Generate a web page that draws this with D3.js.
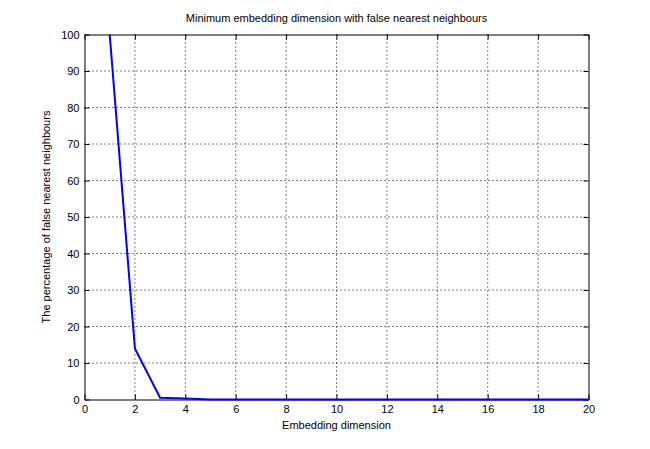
<!DOCTYPE html>
<html><head><meta charset="utf-8">
<script src="https://cdn.jsdelivr.net/npm/d3@7"></script>
<style>body{margin:0;background:#fff}text{font-family:Arial,"Liberation Sans",sans-serif}</style>
</head><body><svg id="c" width="650" height="449"></svg>
<script>
const dims = [1,2,3,4,5,6,7,8,9,10,11,12,13,14,15,16,17,18,19,20];
const falsePct = [100,14,0.5,0.3,0,0,0,0,0,0,0,0,0,0,0,0,0,0,0,0];
const xTicks = [0,2,4,6,8,10,12,14,16,18,20];
const yTicks = [0,10,20,30,40,50,60,70,80,90,100];
const title = "Minimum embedding dimension with false nearest neighbours";
const xLabel = "Embedding dimension";
const yLabel = "The percentage of false nearest neighbours";

const svg = d3.select("#c");
const L=84.5,R=588.5,T=34.5,B=399.5;
const x = d3.scaleLinear().domain([0,20]).range([L,R]);
const y = d3.scaleLinear().domain([0,100]).range([B,T]);
const g = svg.append("g");
g.selectAll(".gx").data(xTicks.slice(1,-1)).join("line").attr("x1",d=>x(d)).attr("x2",d=>x(d)).attr("y1",T).attr("y2",B).attr("stroke","#000").attr("stroke-width",1).attr("stroke-dasharray","1,3");
g.selectAll(".gy").data(yTicks.slice(1,-1)).join("line").attr("y1",d=>y(d)).attr("y2",d=>y(d)).attr("x1",L).attr("x2",R).attr("stroke","#000").attr("stroke-width",1).attr("stroke-dasharray","1,3");
svg.append("g").attr("transform",`translate(0,${B})`).call(d3.axisBottom(x).tickValues(xTicks).tickSizeInner(-5).tickSizeOuter(0).tickPadding(6));
svg.append("g").attr("transform",`translate(0,${T})`).call(d3.axisTop(x).tickValues(xTicks).tickSizeInner(-5).tickSizeOuter(0).tickFormat(""));
svg.append("g").attr("transform",`translate(${L},0)`).call(d3.axisLeft(y).tickValues(yTicks).tickSizeInner(-5).tickSizeOuter(0).tickPadding(5));
svg.append("g").attr("transform",`translate(${R},0)`).call(d3.axisRight(y).tickValues(yTicks).tickSizeInner(-5).tickSizeOuter(0).tickFormat(""));
svg.selectAll(".domain").attr("stroke","#000");
svg.selectAll(".tick text").attr("font-size",11).attr("fill","#000");
svg.append("path").datum(dims.map((d,i)=>[d,falsePct[i]]))
  .attr("d",d3.line().x(d=>x(d[0])).y(d=>y(d[1])))
  .attr("fill","none").attr("stroke","#0000ff").attr("stroke-width",2);
svg.append("text").attr("x",(L+R)/2).attr("y",22).attr("text-anchor","middle").attr("font-size",11).text(title);
svg.append("text").attr("x",(L+R)/2).attr("y",429).attr("text-anchor","middle").attr("font-size",11).text(xLabel);
svg.append("text").attr("transform",`translate(50,${(T+B)/2}) rotate(-90)`).attr("text-anchor","middle").attr("font-size",11).text(yLabel);
</script></body></html>
